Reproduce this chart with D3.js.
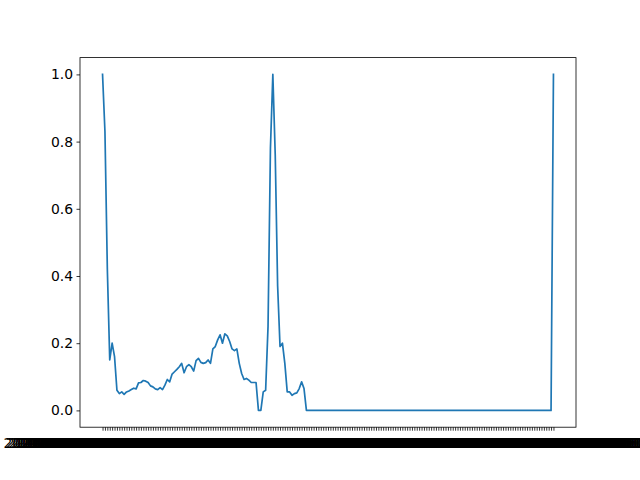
<!DOCTYPE html>
<html>
<head>
<meta charset="utf-8">
<script src="https://cdn.jsdelivr.net/npm/d3@7"></script>
<style>
  html, body { margin: 0; padding: 0; background: #fff; }
  svg { display: block; }
</style>
</head>
<body>
<svg id="chart" width="640" height="480"></svg>
<script>
// ---- data ----
const headValues = [
  1.0, 0.83, 0.42, 0.15, 0.20, 0.16, 0.06, 0.05, 0.055, 0.048,
  0.055, 0.058, 0.062, 0.066, 0.064, 0.082, 0.083, 0.089, 0.087, 0.083,
  0.073, 0.070, 0.064, 0.062, 0.068, 0.062, 0.075, 0.092, 0.085, 0.108,
  0.115, 0.122, 0.130, 0.140, 0.112, 0.130, 0.136, 0.130, 0.117, 0.148,
  0.155, 0.143, 0.140, 0.142, 0.150, 0.140, 0.183, 0.190, 0.210, 0.225,
  0.200, 0.228, 0.222, 0.205, 0.183, 0.178, 0.183, 0.140, 0.110, 0.092,
  0.095, 0.090, 0.083, 0.083, 0.083, 0.0, 0.0, 0.055, 0.060, 0.250,
  0.780, 1.0, 0.760, 0.370, 0.190, 0.200, 0.140, 0.055, 0.055, 0.045,
  0.050, 0.052, 0.065, 0.085, 0.065, 0.0
];
const flatCount = 102;          // run of zeros after the second spike
const tailValues = [1.0];
const values = headValues.concat(new Array(flatCount).fill(0), tailValues);

const startDate = new Date(Date.UTC(2021, 0, 1));
const fmt = d3.utcFormat("%Y-%m-%d %H:%M:%S+00:00");
const categories = values.map((_, i) => fmt(d3.utcDay.offset(startDate, i)));

const yTicks = [0.0, 0.2, 0.4, 0.6, 0.8, 1.0];

// ---- layout ----
const W = 640, H = 480;
const mLeft = 80, mRight = 576, mTop = 57.6, mBottom = 427.2;
const N = values.length;
const svg = d3.select("#chart");

const x = d3.scaleLinear()
  .domain([-0.05 * (N - 1), 1.05 * (N - 1)])
  .range([mLeft, mRight]);
const y = d3.scaleLinear()
  .domain([-0.05, 1.05])
  .range([mBottom, mTop]);

// x axis (one tick per category)
const xAxis = d3.axisBottom(x)
  .tickValues(d3.range(N))
  .tickFormat(i => categories[i])
  .tickSizeInner(3.5).tickSizeOuter(0).tickPadding(7);
const gx = svg.append("g").attr("transform", `translate(0,${mBottom})`).call(xAxis);
gx.select(".domain").remove();
gx.selectAll("line").attr("stroke", "#000").attr("stroke-width", 0.8);
gx.selectAll("text")
  .attr("fill", "#000")
  .style("font-family", "DejaVu Sans")
  .style("font-size", "13.9px");

// y axis
const yAxis = d3.axisLeft(y)
  .tickValues(yTicks)
  .tickFormat(d3.format(".1f"))
  .tickSizeInner(3.5).tickSizeOuter(0).tickPadding(3.5);
const gy = svg.append("g").attr("transform", `translate(${mLeft},0)`).call(yAxis);
gy.select(".domain").remove();
gy.selectAll("line").attr("stroke", "#000").attr("stroke-width", 0.8);
gy.selectAll("text")
  .attr("fill", "#000")
  .style("font-family", "DejaVu Sans")
  .style("font-size", "13.9px");

// line
const line = d3.line()
  .x((d, i) => x(i))
  .y(d => y(d));
svg.append("path")
  .datum(values)
  .attr("fill", "none")
  .attr("stroke", "#1f77b4")
  .attr("stroke-width", 1.7)
  .attr("stroke-linejoin", "round")
  .attr("stroke-linecap", "square")
  .attr("d", line);

// frame
svg.append("rect")
  .attr("x", mLeft).attr("y", mTop)
  .attr("width", mRight - mLeft).attr("height", mBottom - mTop)
  .attr("fill", "none").attr("stroke", "#000").attr("stroke-width", 0.8);
</script>
</body>
</html>
